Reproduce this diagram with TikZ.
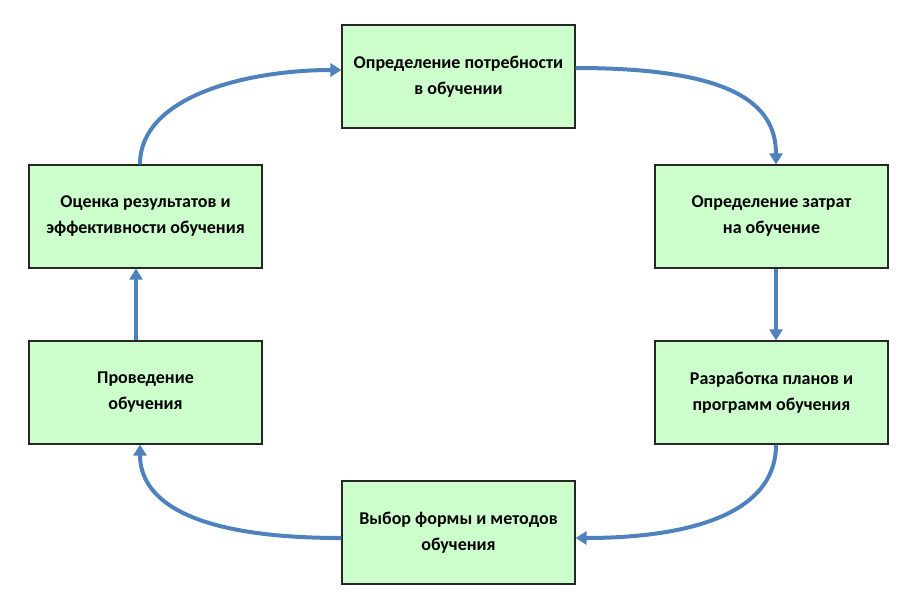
\documentclass[tikz,border=0pt]{standalone}
\usepackage{fontspec}
\setmainfont{Carlito}
\usetikzlibrary{arrows.meta}
\definecolor{boxfill}{HTML}{CCFFCC}
\definecolor{arrowblue}{HTML}{4F81BD}
\begin{document}
\begin{tikzpicture}[x=1pt,y=-1pt,
            stage/.style={shape=rectangle, draw=black!85, line width=1.2pt, fill=boxfill,
              minimum width=233pt, minimum height=103pt, inner sep=2pt, align=center,
              font=\fontsize{18}{26}\selectfont\bfseries},
            flow/.style={draw=arrowblue, line width=4pt, -{Triangle[length=11pt,width=13pt]}}]
				\useasboundingbox (0,0) rectangle (917,610);
				\node[stage] (need) at (458.5,76.5) {Определение потребности\\в обучении};
				\node[stage] (cost) at (771.5,216.5) {Определение затрат\\на обучение};
				\node[stage] (plan) at (771.5,392.5) {Разработка планов и\\программ обучения};
				\node[stage] (form) at (458.5,532.5) {Выбор формы и методов\\обучения};
				\node[stage] (run) at (145.5,392.5) {Проведение\\обучения};
				\node[stage] (eval) at (145.5,216.5) {Оценка результатов и\\эффективности обучения};

				\draw[flow] (need.east |- 0,68) .. controls (735,68) and (776,105) .. (cost.north -| 776,0);
				\draw[flow] (cost.south -| 776,0) -- (plan.north -| 776,0);
				\draw[flow] (plan.south -| 776,0) .. controls (776,525) and (660,538) .. (form.east |- 0,538);
				\draw[flow] (form.west |- 0,538) .. controls (180,538) and (140,495) .. (run.south -| 140,0);
				\draw[flow] (run.north -| 136,0) -- (eval.south -| 136,0);
				\draw[flow] (eval.north -| 140,0) .. controls (140,95) and (250,70) .. (need.west |- 0,70);
 		\end{tikzpicture}
\end{document}
